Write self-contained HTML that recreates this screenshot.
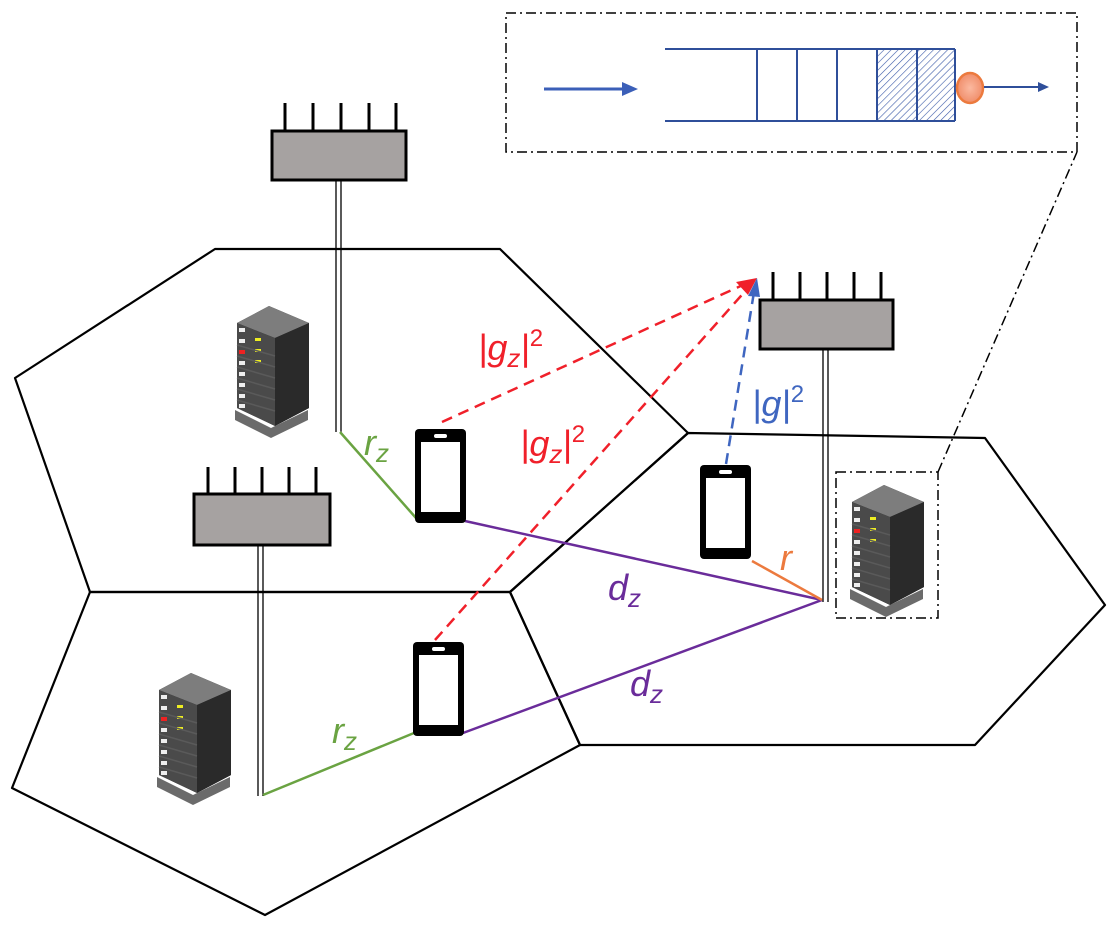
<!DOCTYPE html>
<html><head><meta charset="utf-8"><style>
html,body{margin:0;padding:0;background:#fff}
svg{display:block}
text{font-family:"Liberation Sans","DejaVu Sans",sans-serif;font-style:italic}
</style></head><body>
<svg width="1116" height="925" viewBox="0 0 1116 925" xmlns="http://www.w3.org/2000/svg">
<defs>
<pattern id="hatch" width="5" height="5" patternUnits="userSpaceOnUse" patternTransform="rotate(45)">
<line x1="0" y1="0" x2="0" y2="5" stroke="#3b5aa8" stroke-width="1.2"/>
</pattern>
<radialGradient id="rg"><stop offset="0" stop-color="#fbb9a0"/><stop offset="1" stop-color="#f08e6b"/></radialGradient>
<g id="server">
<polygon points="2,112 38,130 75,112 75,122 38,140 2,122" fill="#6b6b6b"/>
<polygon points="4,25 36,8 76,25 76,110 42,128 4,110" fill="#2e2e2e"/>
<polygon points="4,25 36,8 76,25 42,40" fill="#7d7d7d"/>
<polygon points="4,25 42,40 42,128 4,110" fill="#4a4a4a"/>
<polygon points="42,40 76,25 76,110 42,128" fill="#2a2a2a"/>
<g fill="#eee">
<rect x="6" y="30" width="6" height="4"/><rect x="6" y="41" width="6" height="4"/>
<rect x="6" y="63" width="6" height="4"/><rect x="6" y="74" width="6" height="4"/><rect x="6" y="85" width="6" height="4"/><rect x="6" y="96" width="6" height="4"/><rect x="6" y="106" width="6" height="4"/>
</g>
<rect x="6" y="52" width="6" height="4" fill="#e22"/>
<g fill="#ee2"><rect x="22" y="40" width="6" height="3"/><rect x="22" y="51" width="6" height="3"/><rect x="22" y="62" width="6" height="3"/></g>
<g stroke="#5a5a5a" stroke-width="1.5"><line x1="4" y1="47" x2="42" y2="58"/><line x1="4" y1="58" x2="42" y2="69"/><line x1="4" y1="69" x2="42" y2="80"/><line x1="4" y1="80" x2="42" y2="91"/><line x1="4" y1="91" x2="42" y2="102"/><line x1="4" y1="102" x2="42" y2="113"/></g>
</g>
<g id="phone">
<rect x="0" y="0" width="51" height="94" rx="4" fill="#000"/>
<rect x="6" y="13" width="39" height="70" fill="#fff"/>
<rect x="19" y="5" width="13" height="4" rx="2" fill="#fff"/>
</g>
</defs>

<!-- cells -->
<g fill="none" stroke="#000" stroke-width="2.2" stroke-linejoin="round">
<polygon points="215,249 500,249 688,433 510,592 90,592 15,378"/>
<polygon points="90,592 510,592 580,745 265,915 12,788"/>
<polygon points="688,433 985,438 1105,605 975,745 580,745 510,592"/>
</g>

<!-- inset -->
<g fill="none" stroke="#000" stroke-width="1.5" stroke-dasharray="10,4,2,4">
<rect x="506" y="13" width="571" height="139"/>
<rect x="836" y="472" width="102" height="146"/>
<line x1="938" y1="472" x2="1077" y2="152"/>
</g>
<rect x="877" y="49" width="78" height="72" fill="url(#hatch)"/>
<g stroke="#2f4f9a" stroke-width="2" fill="none">
<line x1="665" y1="49" x2="955" y2="49"/><line x1="665" y1="121" x2="955" y2="121"/>
<line x1="757" y1="49" x2="757" y2="121"/><line x1="797" y1="49" x2="797" y2="121"/><line x1="837" y1="49" x2="837" y2="121"/><line x1="877" y1="49" x2="877" y2="121"/><line x1="917" y1="49" x2="917" y2="121"/><line x1="955" y1="49" x2="955" y2="121"/>
</g>
<line x1="544" y1="89" x2="624" y2="89" stroke="#3b5fb8" stroke-width="3"/>
<polygon points="622,82 638,89 622,96" fill="#3b5fb8"/>
<ellipse cx="970" cy="88" rx="13" ry="15" fill="url(#rg)" stroke="#ec7a3e" stroke-width="2.5"/>
<line x1="984" y1="87" x2="1040" y2="87" stroke="#2f4f9a" stroke-width="2"/>
<polygon points="1038,82 1049,87 1038,92" fill="#2f4f9a"/>

<!-- masts -->
<g stroke="#000" stroke-width="1.3">
<line x1="336" y1="180" x2="336" y2="432"/><line x1="341" y1="180" x2="341" y2="432"/>
<line x1="258" y1="545" x2="258" y2="796"/><line x1="263" y1="545" x2="263" y2="796"/>
<line x1="823" y1="349" x2="823" y2="602"/><line x1="828" y1="349" x2="828" y2="602"/>
</g>

<!-- base stations -->
<g stroke="#000" stroke-width="3" fill="#a6a2a1">
<g><line x1="285" y1="103" x2="285" y2="131"/><line x1="313" y1="103" x2="313" y2="131"/><line x1="341" y1="103" x2="341" y2="131"/><line x1="369" y1="103" x2="369" y2="131"/><line x1="396" y1="103" x2="396" y2="131"/><rect x="272" y="131" width="134" height="49"/></g>
<g><line x1="208" y1="467" x2="208" y2="493"/><line x1="235" y1="467" x2="235" y2="493"/><line x1="262" y1="467" x2="262" y2="493"/><line x1="289" y1="467" x2="289" y2="493"/><line x1="316" y1="467" x2="316" y2="493"/><rect x="194" y="494" width="136" height="51"/></g>
<g><line x1="773" y1="272" x2="773" y2="300"/><line x1="800" y1="272" x2="800" y2="300"/><line x1="827" y1="272" x2="827" y2="300"/><line x1="854" y1="272" x2="854" y2="300"/><line x1="881" y1="272" x2="881" y2="300"/><rect x="760" y="300" width="133" height="49"/></g>
</g>

<!-- links -->
<g stroke-width="2.5" fill="none">
<line x1="340" y1="432" x2="416" y2="518" stroke="#6aa342"/>
<line x1="263" y1="795" x2="414" y2="733" stroke="#6aa342"/>
<line x1="465" y1="521" x2="822" y2="600" stroke="#6a2c9a"/>
<line x1="463" y1="733" x2="822" y2="600" stroke="#6a2c9a"/>
<line x1="752" y1="561" x2="822" y2="600" stroke="#ec7a3e"/>
<g stroke="#f0202a" stroke-dasharray="11,7">
<line x1="442" y1="422" x2="745" y2="284"/>
<line x1="435" y1="640" x2="748" y2="288"/>
</g>
<line x1="726" y1="464" x2="754" y2="292" stroke="#3f66c0" stroke-dasharray="11,7"/>
</g>
<polygon points="757,278 736,282 748,295" fill="#f0202a"/>
<polygon points="757,278 748,296 760,297" fill="#3f66c0"/>

<!-- phones -->
<use href="#phone" x="415" y="429"/>
<use href="#phone" x="413" y="642"/>
<use href="#phone" x="700" y="465"/>

<!-- servers -->
<use href="#server" x="233" y="298"/>
<use href="#server" x="155" y="665"/>
<use href="#server" x="848" y="477"/>

<!-- labels -->
<g font-size="36">
<text x="478" y="360" fill="#f0202a">|g<tspan font-size="26" dy="7">z</tspan><tspan dy="-7">|</tspan><tspan font-size="24" dy="-14" font-style="normal">2</tspan></text>
<text x="520" y="456" fill="#f0202a">|g<tspan font-size="26" dy="7">z</tspan><tspan dy="-7">|</tspan><tspan font-size="24" dy="-14" font-style="normal">2</tspan></text>
<text x="752" y="416" fill="#3f66c0">|g|<tspan font-size="24" dy="-14" font-style="normal">2</tspan></text>
<text x="364" y="455" fill="#6aa342">r<tspan font-size="26" dy="7">z</tspan></text>
<text x="332" y="743" fill="#6aa342">r<tspan font-size="26" dy="7">z</tspan></text>
<text x="608" y="600" fill="#6a2c9a">d<tspan font-size="26" dy="7">z</tspan></text>
<text x="630" y="696" fill="#6a2c9a">d<tspan font-size="26" dy="7">z</tspan></text>
<text x="780" y="570" fill="#ec7a3e">r</text>
</g>
</svg>
</body></html>
